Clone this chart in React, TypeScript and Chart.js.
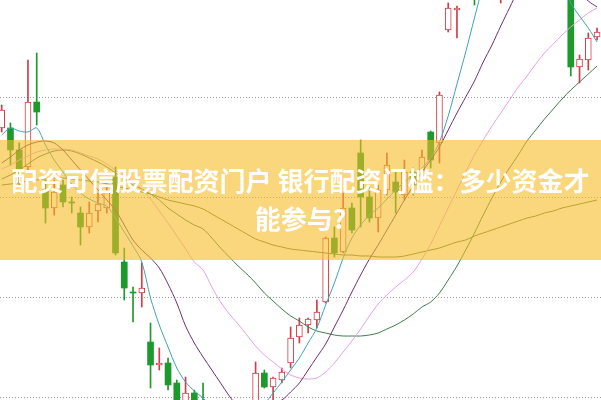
import React, { useEffect, useRef } from "react";
import { Chart, registerables } from "chart.js";

Chart.register(...registerables);

// Daily candles (price)
const opens = [12.69, 12.69, 12.47, 12.30, 12.95, 12.07, 11.89, 12.12, 11.95, 11.84, 11.70, 11.86, 11.89, 12.20, 11.35, 11.05, 11.04, 10.55, 10.32, 10.34, 10.14, 9.92, 10.04, 9.95, 9.72, 9.47, 9.57, 9.42, 9.57, 9.87, 10.24, 10.10, 10.17, 10.34, 10.60, 10.72, 10.77, 10.95, 11.59, 11.45, 11.89, 12.44, 12.00, 11.79, 12.07, 12.15, 12.02, 12.25, 12.27, 12.65, 12.54, 13.67, 13.87, 14.07, 14.37, 14.07, 14.47, 14.07, 14.37, 14.67, 14.47, 14.77, 14.57, 14.42, 14.52, 14.27, 13.30, 13.37, 13.60];
const closes = [12.87, 12.47, 12.27, 12.95, 12.85, 11.89, 12.05, 11.95, 11.94, 11.70, 11.84, 11.93, 12.05, 11.44, 11.09, 11.04, 11.09, 10.32, 10.34, 10.12, 9.89, 10.04, 9.87, 9.67, 9.52, 9.67, 9.37, 9.57, 9.77, 10.24, 10.10, 10.19, 10.25, 10.59, 10.72, 10.78, 10.85, 11.59, 11.44, 11.89, 11.67, 12.00, 11.79, 12.07, 12.32, 12.05, 12.25, 12.12, 12.40, 12.37, 13.02, 13.89, 13.89, 14.37, 14.02, 14.47, 14.17, 14.37, 14.67, 14.47, 14.77, 14.57, 14.42, 14.57, 14.27, 13.30, 13.38, 13.59, 13.65];
const highs = [12.92, 12.74, 12.54, 13.37, 13.44, 12.17, 12.17, 12.17, 12.00, 11.90, 11.95, 12.04, 12.14, 12.30, 11.49, 11.10, 11.34, 10.74, 10.49, 10.39, 10.17, 10.20, 10.07, 10.14, 9.82, 9.72, 9.67, 9.67, 9.92, 10.35, 10.27, 10.20, 10.29, 10.70, 10.79, 10.79, 10.97, 11.60, 11.70, 12.04, 11.94, 12.57, 12.10, 12.12, 12.44, 12.27, 12.37, 12.29, 12.47, 12.66, 13.05, 13.94, 13.91, 14.47, 14.47, 14.57, 14.67, 14.47, 14.77, 14.82, 14.87, 14.92, 14.67, 14.67, 14.62, 14.32, 13.42, 13.64, 13.69];
const lows = [12.65, 12.32, 12.12, 12.25, 12.72, 11.74, 11.82, 11.90, 11.84, 11.52, 11.64, 11.75, 11.84, 11.42, 10.97, 10.75, 10.90, 10.09, 10.27, 10.07, 9.82, 9.85, 9.77, 9.57, 9.42, 9.37, 9.27, 9.32, 9.52, 9.82, 10.09, 9.97, 10.14, 10.29, 10.54, 10.64, 10.69, 10.94, 11.40, 11.44, 11.64, 11.70, 11.75, 11.65, 12.02, 11.84, 11.97, 12.02, 12.19, 12.29, 12.34, 13.65, 13.59, 14.02, 13.92, 14.02, 14.07, 13.94, 14.32, 14.42, 14.42, 14.52, 14.37, 14.37, 14.22, 13.21, 13.14, 13.27, 13.57];

// Moving-average lines
const ma5 = [12.62, 12.69, 12.66, 12.65, 12.69, 12.52, 12.37, 12.25, 12.13, 12.04, 11.98, 11.94, 11.91, 11.79, 11.65, 11.51, 11.35, 10.99, 10.72, 10.50, 10.29, 10.15, 10.06, 9.99, 9.89, 9.79, 9.73, 9.72, 9.77, 9.85, 9.93, 10.04, 10.15, 10.27, 10.39, 10.54, 10.69, 10.92, 11.14, 11.39, 11.59, 11.72, 11.82, 11.89, 11.98, 12.07, 12.15, 12.22, 12.29, 12.39, 12.55, 12.81, 13.13, 13.45, 13.79, 14.12, 14.37, 14.52, 14.62, 14.67, 14.67, 14.62, 14.52, 14.37, 14.17, 13.94, 13.81, 13.69, 13.55];
const ma10 = [12.34, 12.40, 12.47, 12.52, 12.55, 12.56, 12.54, 12.47, 12.37, 12.27, 12.17, 12.07, 11.97, 11.87, 11.72, 11.57, 11.47, 11.39, 11.29, 11.13, 10.94, 10.71, 10.54, 10.40, 10.27, 10.14, 10.01, 9.90, 9.85, 9.87, 9.91, 9.94, 9.97, 10.05, 10.14, 10.27, 10.40, 10.53, 10.70, 10.87, 11.05, 11.22, 11.38, 11.52, 11.67, 11.82, 11.97, 12.11, 12.25, 12.37, 12.50, 12.67, 12.84, 13.00, 13.16, 13.35, 13.52, 13.71, 13.89, 14.07, 14.22, 14.32, 14.37, 14.35, 14.27, 14.17, 14.05, 13.96, 13.90];
const ma20 = [12.28, 12.32, 12.37, 12.41, 12.45, 12.47, 12.48, 12.48, 12.47, 12.44, 12.41, 12.38, 12.33, 12.27, 12.21, 12.15, 12.08, 11.98, 11.86, 11.74, 11.61, 11.48, 11.35, 11.27, 11.10, 10.95, 10.83, 10.73, 10.62, 10.51, 10.42, 10.35, 10.28, 10.22, 10.19, 10.18, 10.19, 10.25, 10.34, 10.45, 10.56, 10.68, 10.81, 10.93, 11.02, 11.10, 11.17, 11.25, 11.38, 11.53, 11.71, 11.89, 12.07, 12.25, 12.42, 12.57, 12.71, 12.84, 12.97, 13.10, 13.21, 13.33, 13.44, 13.53, 13.62, 13.70, 13.77, 13.84, 13.89];
const ma30 = [12.18, 12.22, 12.27, 12.33, 12.39, 12.43, 12.46, 12.47, 12.46, 12.43, 12.39, 12.35, 12.30, 12.24, 12.18, 12.12, 12.08, 12.03, 11.97, 11.89, 11.83, 11.77, 11.72, 11.68, 11.59, 11.49, 11.40, 11.31, 11.23, 11.14, 11.04, 10.96, 10.88, 10.81, 10.76, 10.70, 10.66, 10.64, 10.62, 10.61, 10.61, 10.61, 10.62, 10.64, 10.68, 10.72, 10.77, 10.83, 10.90, 10.95, 11.04, 11.17, 11.31, 11.47, 11.64, 11.82, 11.99, 12.15, 12.29, 12.42, 12.56, 12.67, 12.78, 12.88, 12.98, 13.07, 13.15, 13.23, 13.31];
const ma60 = [12.12, 12.13, 12.14, 12.16, 12.17, 12.18, 12.19, 12.19, 12.18, 12.17, 12.16, 12.15, 12.13, 12.11, 12.09, 12.07, 12.05, 12.03, 12.00, 11.97, 11.95, 11.93, 11.91, 11.88, 11.83, 11.78, 11.73, 11.68, 11.63, 11.58, 11.55, 11.52, 11.50, 11.48, 11.47, 11.46, 11.45, 11.44, 11.43, 11.42, 11.42, 11.41, 11.41, 11.40, 11.40, 11.40, 11.41, 11.43, 11.45, 11.47, 11.49, 11.52, 11.55, 11.57, 11.61, 11.64, 11.67, 11.70, 11.73, 11.76, 11.79, 11.81, 11.84, 11.86, 11.89, 11.91, 11.93, 11.95, 11.97];

const gridTicks = [10, 11, 12, 13];
const titleLines = ["配资可信股票配资门户 银行配资门槛：多少资金才", "能参与?"];

const RED = "#d23c46";
const GREEN = "#1c9a2c";

export default function App() {
  const ref = useRef<HTMLCanvasElement | null>(null);

  useEffect(() => {
    if (!ref.current) return;
    const idx = opens.map((_, i) => i + 1);
    const up = opens.map((o, i) => closes[i] >= o);
    const line = (vals: number[], color: string) => ({
      type: "line" as const,
      data: vals.map((v, i) => ({ x: idx[i], y: v })),
      borderColor: color,
      borderWidth: 1,
      pointRadius: 0,
      fill: false,
      tension: 0.3,
      order: 0,
    });

    const chart = new Chart(ref.current, {
      type: "bar",
      data: {
        datasets: [
          line(ma5, "#3ba3b8"),
          line(ma10, "#702c70"),
          line(ma20, "#e6a0e6"),
          line(ma30, "#3e7d48"),
          line(ma60, "#5a7d3a"),
          {
            type: "bar",
            data: idx.map((x, i) => ({ x, y: [opens[i], closes[i]] })),
            backgroundColor: up.map((u) => (u ? "#ffffff" : GREEN)),
            borderColor: up.map((u) => (u ? RED : GREEN)),
            borderWidth: up.map((u) => (u ? 1 : 0)),
            borderSkipped: false,
            barThickness: 6,
            grouped: false,
            order: 1,
          } as any,
          {
            type: "bar",
            data: idx.map((x, i) => ({ x, y: [lows[i], highs[i]] })),
            backgroundColor: up.map((u) => (u ? RED : GREEN)),
            borderWidth: 0,
            barThickness: 1,
            grouped: false,
            order: 2,
          } as any,
        ],
      },
      options: {
        responsive: false,
        animation: false,
        devicePixelRatio: 1,
        layout: { padding: 0 },
        plugins: { legend: { display: false }, tooltip: { enabled: false } },
        scales: {
          x: { type: "linear", min: 0.806, max: 69.452, offset: false, display: false },
          y: {
            type: "linear",
            min: 9.97,
            max: 13.97,
            display: true,
            afterBuildTicks: (axis: any) => {
              axis.ticks = gridTicks.map((v) => ({ value: v }));
            },
            ticks: { display: false },
            grid: { color: "#9a9a9a", lineWidth: 1, drawTicks: false },
            border: { display: false, dash: [1, 2] },
          },
        },
      } as any,
    });
    return () => chart.destroy();
  }, []);

  return (
    <div
      style={{
        position: "fixed",
        left: 0,
        top: 0,
        width: 601,
        height: 400,
        background: "#ffffff",
        overflow: "hidden",
      }}
    >
      <canvas ref={ref} width={601} height={400} style={{ position: "absolute", left: 0, top: 0 }} />
      <div
        style={{
          position: "absolute",
          left: 0,
          top: 140,
          width: 601,
          height: 120,
          background: "rgba(247,188,38,0.6)",
        }}
      />
      <div
        style={{
          position: "absolute",
          left: 0,
          top: 161,
          width: 601,
          textAlign: "center",
          color: "#ffffff",
          fontFamily: '"Noto Sans CJK SC", "Noto Sans", sans-serif',
          fontWeight: 700,
          fontSize: 26,
          lineHeight: "38px",
        }}
      >
        {titleLines.map((t) => (
          <div key={t} style={{ whiteSpace: "nowrap" }}>
            {t}
          </div>
        ))}
      </div>
    </div>
  );
}
